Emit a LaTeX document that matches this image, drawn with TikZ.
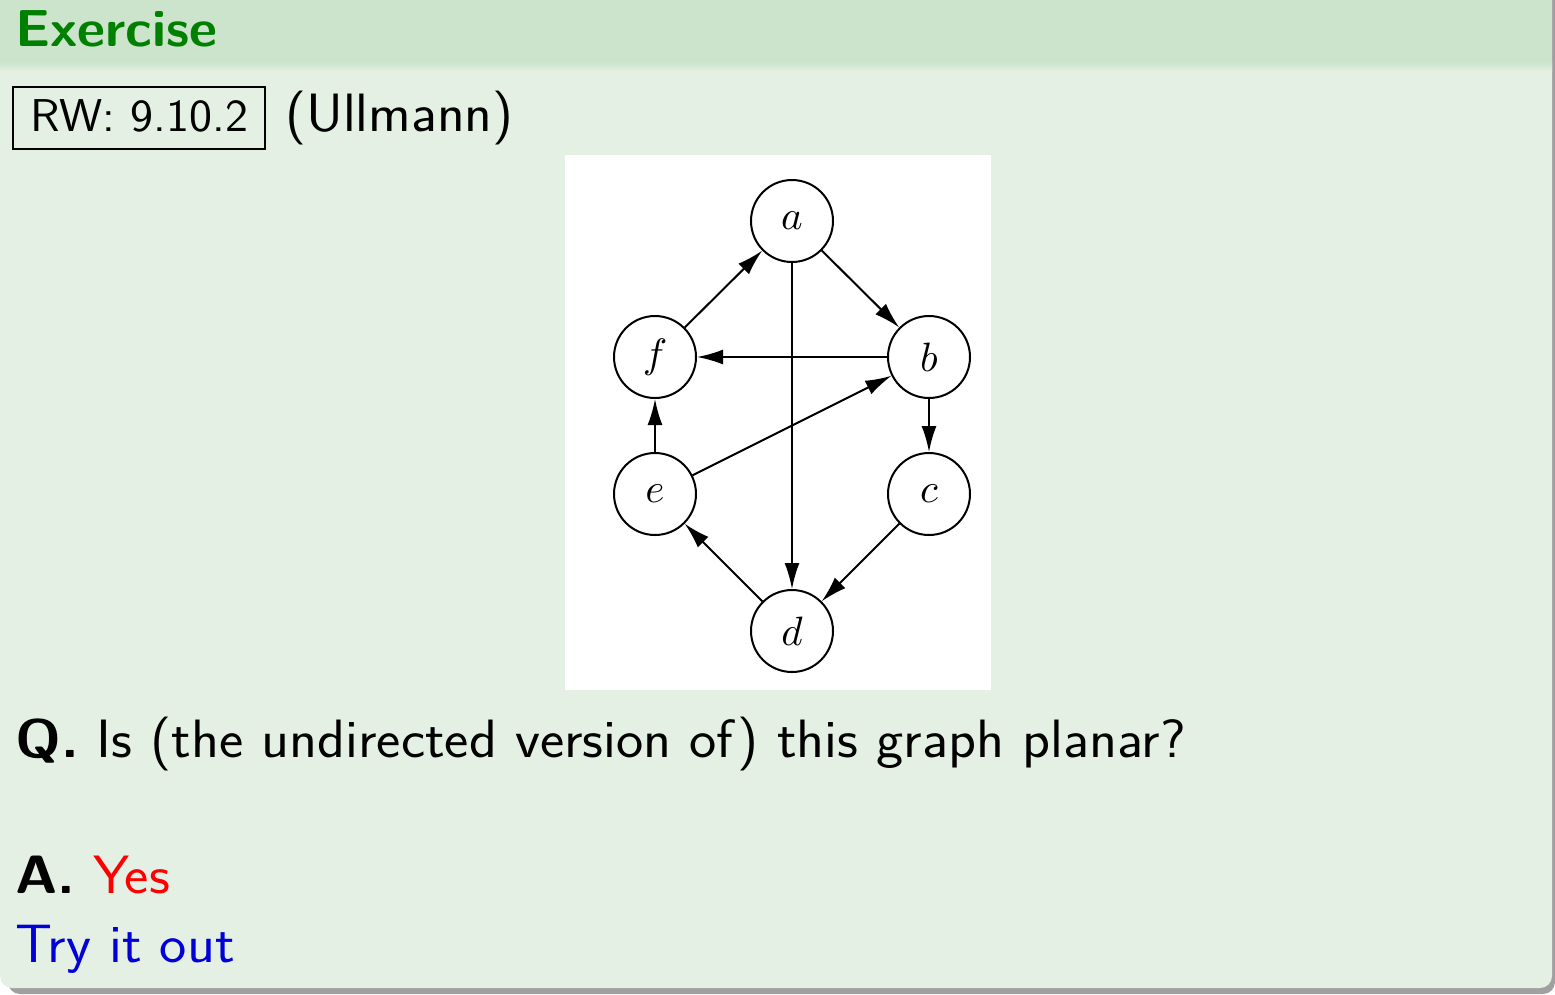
\documentclass[tikz,border=0pt]{standalone}
\usepackage{graphicx}
\usetikzlibrary{arrows.meta}
\DeclareFontShape{OML}{cmm}{m}{it}{<->cmmi10}{}
\definecolor{hdr}{RGB}{204,228,204}
\definecolor{bdy}{RGB}{229,240,229}
\definecolor{ttl}{RGB}{0,128,0}
\definecolor{shd}{RGB}{160,160,160}
\definecolor{tryblue}{RGB}{0,0,215}
\begin{document}
\begin{tikzpicture}[x=1pt,y=-1pt,
  vtx/.style={circle,draw,line width=2pt,minimum size=82pt,inner sep=0pt,fill=white,font=\fontsize{41}{48}\selectfont},
  edge/.style={-{Latex[length=26pt,width=15pt]},line width=2pt},
  txt/.style={anchor=base west,inner sep=0pt,font=\sffamily\fontsize{54}{62}\selectfont}]
\useasboundingbox (0,0) rectangle (1555,994);
% block background
\fill[shd, rounded corners=12pt] (8,-30) rectangle (1555,994);
\fill[bdy, rounded corners=12pt] (0,-30) rectangle (1552,988);
\fill[hdr] (0,0) rectangle (1552,62);
\shade[top color=hdr, bottom color=bdy] (0,62) rectangle (1552,72);
% title
\node[txt, text=ttl, font=\sffamily\bfseries\fontsize{52}{60}\selectfont] (title) at (15,46) {\scalebox{1.05}[1]{Exercise}};
% reference box
\node[draw, line width=1.5pt, anchor=base, inner xsep=0pt, inner ysep=0pt, text height=44pt, text depth=18pt,
      minimum width=252pt, font=\sffamily\fontsize{46}{54}\selectfont] (rw) at (139,131) {\scalebox{1.06}[1]{RW: 9.10.2}};
\node[txt] (ull) at (285,131) {\scalebox{1.06}[1]{(Ullmann)}};
% graph picture
\node[fill=white, minimum width=426pt, minimum height=535pt, inner sep=0pt, anchor=north west] (img) at (565,155) {};
\node[vtx] (a) at (792,221) {$a$};
\node[vtx] (b) at (929,357) {$b$};
\node[vtx] (f) at (655,357) {$f$};
\node[vtx] (e) at (655,494) {$e$};
\node[vtx] (c) at (929,494) {$c$};
\node[vtx] (d) at (792,631) {$d$};
\draw[edge] (f) -- (a);
\draw[edge] (a) -- (b);
\draw[edge] (b) -- (f);
\draw[edge] (b) -- (c);
\draw[edge] (a) -- (d);
\draw[edge] (c) -- (d);
\draw[edge] (d) -- (e);
\draw[edge] (e) -- (f);
\draw[edge] (e) -- (b);
% question and answer
\node[txt] (q) at (15,757) {\scalebox{1.07}[1]{\textbf{Q.} Is (the undirected version of) this graph planar?}};
\node[txt] (ans) at (15,893) {\scalebox{1.07}[1]{\textbf{A.} \textcolor{red}{Yes}}};
\node[txt, text=tryblue] (try) at (15,962) {\scalebox{1.07}[1]{Try it out}};
\end{tikzpicture}
\end{document}
